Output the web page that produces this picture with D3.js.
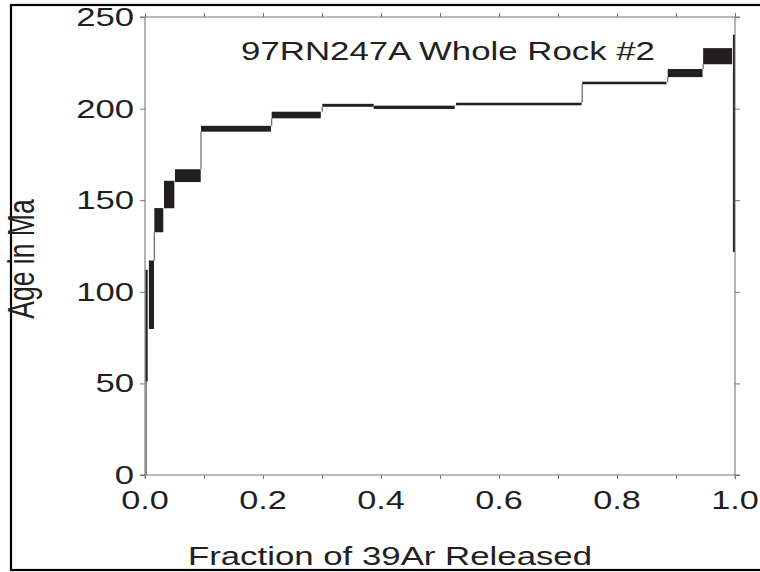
<!DOCTYPE html>
<html>
<head>
<meta charset="utf-8">
<script src="https://cdn.jsdelivr.net/npm/d3@7"></script>
<style>
  body { margin: 0; background: #fff; }
  text { font-family: "Liberation Sans", Arial, sans-serif; fill: #231f20; }
</style>
</head>
<body>
<div id="chart"></div>
<script>
// Ar-Ar age spectrum, 97RN247A whole rock #2

// step data: fraction of 39Ar released (start/end), age and half-error in Ma
const fracStart = [0.001, 0.0066, 0.0158, 0.0322, 0.0508, 0.0949, 0.2147, 0.3005, 0.3875, 0.527, 0.741, 0.886, 0.946, 0.9965];
const fracEnd   = [0.0045, 0.0153, 0.031, 0.0497, 0.0944, 0.2136, 0.298, 0.3875, 0.525, 0.740, 0.884, 0.945, 0.995, 0.9995];
const ages      = [81.5, 98.4, 139.1, 153.1, 163.4, 189.0, 196.5, 201.8, 200.7, 202.5, 214.0, 219.4, 228.6, 181.0];
const errors    = [30.5, 18.7, 6.6, 7.5, 3.5, 1.6, 1.8, 0.8, 0.9, 0.7, 0.7, 2.2, 4.4, 59.3];

const xTicks = [0, 0.1, 0.2, 0.3, 0.4, 0.5, 0.6, 0.7, 0.8, 0.9, 1.0];
const xLabels = [0, 0.2, 0.4, 0.6, 0.8, 1.0];
const yTicks = [0, 50, 100, 150, 200, 250];

const width = 760, height = 572;
const plot = { left: 145, right: 735, top: 17, bottom: 475 };
const stretch = 1.37; // the original type is set wide
const ink = "#231f20";

const svg = d3.select("#chart")
    .append("svg")
    .attr("width", width)
    .attr("height", height);

// outer frame
svg.append("rect")
    .attr("x", 11).attr("y", 5)
    .attr("width", 760).attr("height", 565)
    .attr("fill", "none")
    .attr("stroke", "#000")
    .attr("stroke-width", 2.2);

const x = d3.scaleLinear().domain([0, 1]).range([plot.left, plot.right]);
const y = d3.scaleLinear().domain([0, 250]).range([plot.bottom, plot.top]);

// axes: ticks from d3, lines a bit longer than the frame like the original
const axisColor = "#777";
function styleAxis(g) {
    g.select(".domain").remove();
    g.selectAll(".tick line").attr("stroke", axisColor).attr("stroke-width", 1);
}
svg.append("g").attr("transform", `translate(0,${plot.bottom})`)
    .call(d3.axisBottom(x).tickValues(xTicks).tickSize(4).tickFormat(""))
    .call(styleAxis);
svg.append("g").attr("transform", `translate(0,${plot.top})`)
    .call(d3.axisTop(x).tickValues(xTicks).tickSize(4).tickFormat(""))
    .call(styleAxis);
svg.append("g").attr("transform", `translate(${plot.left},0)`)
    .call(d3.axisLeft(y).tickValues(yTicks).tickSize(5).tickFormat(""))
    .call(styleAxis);
svg.append("g").attr("transform", `translate(${plot.right},0)`)
    .call(d3.axisRight(y).tickValues(yTicks).tickSize(5).tickFormat(""))
    .call(styleAxis);

const frameLines = [
    [plot.left - 5, plot.bottom, plot.right + 5, plot.bottom],
    [plot.left - 5, plot.top, plot.right + 5, plot.top],
    [plot.left, plot.top, plot.left, plot.bottom + 3],
    [plot.right, plot.top, plot.right, plot.bottom + 3]
];
svg.selectAll(".frame")
    .data(frameLines)
    .join("line")
    .attr("class", "frame")
    .attr("x1", d => d[0]).attr("y1", d => d[1])
    .attr("x2", d => d[2]).attr("y2", d => d[3])
    .attr("stroke", axisColor)
    .attr("stroke-width", 1.1);

// stretched text helper
function wideText(px, py, str, anchor, size, rotate) {
    const g = svg.append("g")
        .attr("transform", `translate(${px},${py}) scale(${stretch},1)` + (rotate ? ` rotate(${rotate})` : ""));
    g.append("text")
        .attr("text-anchor", anchor)
        .attr("font-size", size)
        .text(str);
}

// tick labels
xLabels.forEach(v => wideText(x(v), 509, d3.format(".1f")(v), "middle", 25));
yTicks.forEach(v => wideText(134, y(v) + 9, String(v), "end", 25.3));

// connectors between steps
const connectors = [];
connectors.push([fracStart[0] + 0.001, 0, ages[0] - errors[0]]);
for (let i = 0; i < ages.length - 1; i++) {
    const lo0 = ages[i] - errors[i], hi0 = ages[i] + errors[i];
    const lo1 = ages[i + 1] - errors[i + 1], hi1 = ages[i + 1] + errors[i + 1];
    if (lo1 > hi0) connectors.push([fracStart[i + 1], hi0, lo1]);
    else if (hi1 < lo0) connectors.push([fracStart[i + 1], lo0, hi1]);
}
svg.selectAll(".conn")
    .data(connectors)
    .join("line")
    .attr("class", "conn")
    .attr("x1", d => x(d[0])).attr("x2", d => x(d[0]))
    .attr("y1", d => y(d[1])).attr("y2", d => y(d[2]))
    .attr("stroke", "#666")
    .attr("stroke-width", 1.2);

// age steps
svg.selectAll(".step")
    .data(ages.map((a, i) => ({ a, e: errors[i], f0: fracStart[i], f1: fracEnd[i] })))
    .join("rect")
    .attr("class", "step")
    .attr("x", d => x(d.f0))
    .attr("y", d => y(d.a + d.e))
    .attr("width", d => Math.max(1.5, x(d.f1) - x(d.f0)))
    .attr("height", d => y(d.a - d.e) - y(d.a + d.e))
    .attr("fill", ink);

// titles
wideText(448, 60, "97RN247A Whole Rock #2", "middle", 25.4);
wideText(390, 565, "Fraction of 39Ar Released", "middle", 25.4);
wideText(34, 259, "Age in Ma", "middle", 26.5, -90);
</script>
</body>
</html>
